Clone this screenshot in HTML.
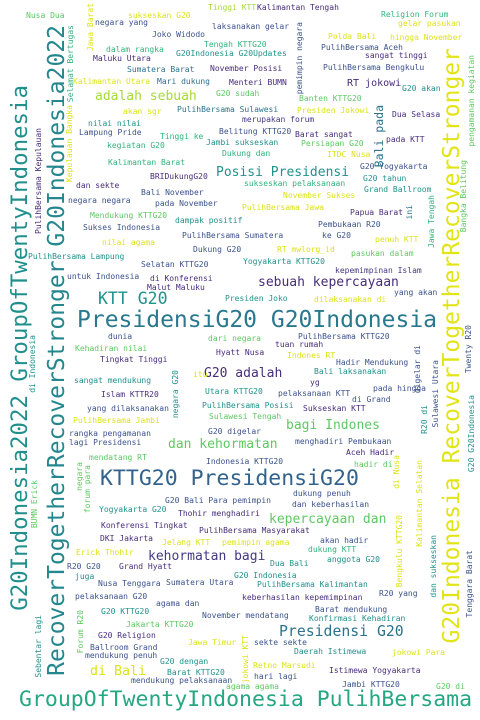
<!DOCTYPE html>
<html><head><meta charset="utf-8"><style>
html,body{margin:0;padding:0;background:#fff;}
#cloud{position:relative;width:480px;height:720px;overflow:hidden;background:#fff;font-family:"DejaVu Sans Mono","Liberation Mono",monospace;}
.w{position:absolute;white-space:nowrap;line-height:1;}
.v{writing-mode:vertical-rl;transform:rotate(180deg);}
</style></head><body>
<div id="cloud"></div>
<script>
var Y="#dde318",L="#a5db36",G="#5ec962",TG="#2fb47c",T="#21918c",BL="#2c728e",B="#3b528b",P="#472d7b",P2="#443983";
// [text, x, centerY (or top for vertical), size, color, vertical]
var words=[
["PresidensiG20 G20Indonesia",77,322,23,"#2a788e",0],
["KTTG20 PresidensiG20",100,480,21.5,"#33638d",0],
["GroupOfTwentyIndonesia PulihBersama",19,701,21.5,"#25a782",0],
["G20Indonesia2022 GroupOfTwentyIndonesia",20,85,22.4,"#21908d",1],
["RecoverTogetherRecoverStronger G20Indonesia2022",57,25,23,"#24878e",1],
["G20Indonesia RecoverTogetherRecoverStronger",452,48,23,"#e2e418",1],
["adalah sebuah",95,97,13,L,0],
["Posisi Presidensi",216,173,13,T,0],
["sebuah kepercayaan",258,283,13,P,0],
["KTT G20",98,300,16.5,T,0],
["G20 adalah",204,374,13,P,0],
["bagi Indones",286,426,13,G,0],
["dan kehormatan",168,445,13,G,0],
["kepercayaan dan",269,520,13,G,0],
["kehormatan bagi",148,557,13,P2,0],
["Presidensi G20",279,633,14.8,BL,0],
["di Bali",90,672,13.3,Y,0],
["RT jokowi",347,84,10,P,0],
["Bali pada",380,105,11.5,BL,1],
["Nusa Dua",26,16,8,G,0],["Jawa Barat",91,3,8,Y,1],["negara yang",95,23,8,B,0],
["sukseskan G20",128,16,8,Y,0],["Tinggi KTT",208,8,8,L,0],["Kalimantan Tengah",257,8,8,P,0],
["Religion Forum",381,15,8,TG,0],["gelar pasukan",398,24,8,Y,0],["laksanakan gelar",212,27,8,B,0],
["Joko Widodo",152,35,8,B,0],["pemimpin negara",300,22,8,B,1],["Polda Bali",328,37,8,Y,0],
["hingga November",390,38,8,Y,0],["Tengah KTTG20",204,45,8,TG,0],["dalam rangka",106,50,8,TG,0],
["G20Indonesia G20Updates",176,54,8,T,0],["PulihBersama Aceh",321,48,8,B,0],["sangat tinggi",365,56,8,P,0],
["Maluku Utara",93,59,8,P,0],["Selamat Bertugas",71,25,8,TG,1],["Sumatera Barat",127,70,8,BL,0],
["November Posisi",210,69,8,P,0],["PulihBersama Bengkulu",323,68,8,B,0],["pengamanan kegiatan",472,55,8,G,1],
["Kalimantan Utara",73,82,8,Y,0],["Mari dukung",157,82,8,BL,0],["Menteri BUMN",229,83,8,P,0],
["G20 akan",402,89,8,T,0],["G20 sudah",216,94,8,G,0],["Banten KTTG20",299,99,8,G,0],
["akan sgr",123,112,8,Y,0],["PulihBersama Sulawesi",177,110,8,BL,0],["Presiden Jokowi",297,111,8,Y,0],
["merupakan forum",242,120,8,P2,0],["Dua Selasa",392,115,8,P,0],["nilai nilai",88,124,8,T,0],
["Lampung Pride",79,133,8,B,0],["Belitung KTTG20",219,132,8,B,0],["Barat sangat",295,135,8,P,0],
["Tinggi ke",160,137,8,TG,0],["pada KTT",386,140,8,P,0],["Kepulauan Bangka",70,105,8,Y,1],
["PulihBersama Kepulauan",39,128,8,P,1],["kegiatan G20",107,146,8,TG,0],["Jambi sukseskan",206,143,8,T,0],
["Persiapan G20",301,144,8,G,0],["Dukung dan",222,154,8,TG,0],["ITDC Nusa",327,155,8,Y,0],
["Kalimantan Barat",108,163,8,TG,0],["G20 Yogyakarta",360,167,8,B,0],["BRIDukungG20",150,177,8,P,0],
["G20 tahun",363,179,8,T,0],["dan sekte",76,186,8,P,0],["sukseskan pelaksanaan",244,184,8,TG,0],
["Grand Ballroom",364,190,8,T,0],["Bali November",141,193,8,B,0],["November Sukses",283,196,8,Y,0],
["Bangka Belitung",464,160,8,G,1],["negara negara",68,201,8,B,0],["pada November",155,204,8,B,0],
["PulihBersama Jawa",242,208,8,Y,0],["Jawa Tengah",432,195,8,TG,1],["Papua Barat",350,213,8,P,0],
["ini",410,205,8,BL,1],["Mendukung KTTG20",90,216,8,G,0],["dampak positif",175,221,8,T,0],
["Pembukaan R20",318,225,8,B,0],["Sukses Indonesia",83,228,8,B,0],["PulihBersama Sumatera",182,236,8,B,0],
["ke G20",322,236,8,B,0],["penuh KTT",375,240,8,Y,0],
["nilai agama",102,243,8,Y,0],["Dukung G20",193,250,8,B,0],["RT mwlorg_id",277,250,8,Y,0],
["pasukan dalam",351,254,8,G,0],["PulihBersama Lampung",28,257,8,T,0],["Selatan KTTG20",141,265,8,B,0],
["Yogyakarta KTTG20",243,262,8,T,0],["kepemimpinan Islam",335,271,8,P2,0],["untuk Indonesia",67,277,8,B,0],
["di Konferensi",150,279,8,P,0],["Malut Maluku",147,288,8,P,0],["yang akan",394,293,8,B,0],
["Presiden Joko",225,299,8,T,0],["dilaksanakan di",314,300,8,Y,0],["di Indonesia",33,335,8,T,1],
["dunia",108,337,8,B,0],["dari negara",208,339,8,G,0],["PulihBersama KTTG20",298,337,8,B,0],
["tuan rumah",275,345,8,P,0],["Kehadiran nilai",75,349,8,G,0],["Hyatt Nusa",216,353,8,P,0],
["Indones RT",287,356,8,Y,0],["Tingkat Tinggi",100,360,8,P,0],["Hadir Mendukung",336,363,8,B,0],
["Twenty R20",469,325,8,B,1],["digelar di",418,345,8,B,1],["negara G20",176,370,8,T,1],
["itu",193,375,8,Y,0],["Bali laksanakan",314,372,8,T,0],["sangat mendukung",74,381,8,T,0],
["yg",310,383,8,P,0],["Utara KTTG20",205,392,8,T,0],["pelaksanaan KTT",278,394,8,B,0],
["pada hingga",373,389,8,B,0],["Islam KTTR20",101,395,8,P,0],["di Grand",352,400,8,B,0],
["Sulawesi Utara",436,360,8,B,1],["R20 di",425,405,8,T,1],["G20 G20Indonesia",472,395,8,T,1],
["PulihBersama Posisi",202,406,8,T,0],["yang dilaksanakan",87,409,8,B,0],["Sukseskan KTT",303,409,8,P,0],
["Sulawesi Tengah",209,417,8,G,0],["PulihBersama Jambi",73,421,8,Y,0],["rangka pengamanan",69,434,8,B,0],
["G20 digelar",208,432,8,B,0],["lagi Presidensi",69,443,8,B,0],["menghadiri Pembukaan",295,442,8,B,0],
["Aceh Hadir",346,453,8,P,0],["mendatang RT",89,458,8,G,0],["Indonesia KTTG20",206,462,8,B,0],
["hadir di",354,465,8,G,0],["di Nusa",397,455,8,Y,1],["Kalimantan Selatan",420,460,8,Y,1],
["negara",80,462,8,G,1],
["forum para",88,465,8,G,1],["BUMN Erick",35,480,8,G,1],["dukung penuh",293,494,8,B,0],
["G20 Bali Para pemimpin",165,501,8,B,0],["dan keberhasilan",292,505,8,B,0],["Yogyakarta G20",99,510,8,T,0],
["Thohir menghadiri",178,514,8,P,0],["Bengkulu KTTG20",400,515,8,Y,1],["dan sukseskan",434,535,8,T,1],
["Tenggara Barat",470,550,8,B,1],["Konferensi Tingkat",101,526,8,P,0],["PulihBersama Masyarakat",199,531,8,P,0],
["DKI Jakarta",100,539,8,P,0],["Jelang KTT",162,543,8,Y,0],["pemimpin agama",222,543,8,Y,0],
["akan hadir",320,541,8,B,0],["dukung KTT",308,550,8,TG,0],["Erick Thohir",76,553,8,Y,0],
["Dua Bali",270,564,8,T,0],["anggota G20",327,560,8,T,0],["R20 G20",67,567,8,B,0],
["Grand Hyatt",119,567,8,P,0],["juga",75,577,8,T,0],["G20 Indonesia",234,576,8,T,0],
["Nusa Tenggara",98,584,8,B,0],["Sumatera Utara",166,583,8,B,0],["PulihBersama Kalimantan",257,585,8,T,0],
["pelaksanaan G20",75,597,8,B,0],["keberhasilan kepemimpinan",242,598,8,P,0],["R20 yang",379,594,8,B,0],
["agama dan",156,604,8,B,0],["Sebentar lagi",39,615,8,T,1],["Barat mendukung",315,610,8,B,0],
["G20 KTTG20",101,612,8,T,0],["November mendatang",202,616,8,B,0],["Konfirmasi Kehadiran",309,619,8,T,0],
["Forum R20",81,610,8,G,1],["Jakarta KTTG20",126,625,8,G,0],["G20 Religion",98,636,8,P,0],
["Jawa Timur",188,643,8,Y,0],["sekte sekte",254,643,8,B,0],["jokowi KTT",246,635,8,Y,1],
["Ballroom Grand",90,648,8,B,0],["Daerah Istimewa",294,652,8,T,0],["jokowi Para",392,653,8,Y,0],
["mendukung penuh",85,656,8,B,0],["G20 dengan",160,662,8,T,0],["Retno Marsudi",253,666,8,Y,0],
["Barat KTTG20",167,673,8,T,0],["Istimewa Yogyakarta",329,671,8,P,0],["hari lagi",254,677,8,B,0],
["mendukung pelaksanaan",131,681,8,B,0],["Jambi KTTG20",342,685,8,B,0],["G20 di",436,687,8,G,0],
["agama agama",226,687,8,G,0]
];
var c=document.getElementById('cloud');
words.forEach(function(w){
  var s=document.createElement('span');
  s.className='w'+(w[5]?' v':'');
  s.textContent=w[0];
  s.style.fontSize=w[3]+'px';
  s.style.color=w[4];
  if(w[5]){ s.style.left=(w[1]-w[3]/2)+'px'; s.style.top=w[2]+'px'; }
  else { s.style.left=w[1]+'px'; s.style.top=(w[2]-w[3]*0.55)+'px'; }
  
  
  c.appendChild(s);
});
</script>
</body></html>
